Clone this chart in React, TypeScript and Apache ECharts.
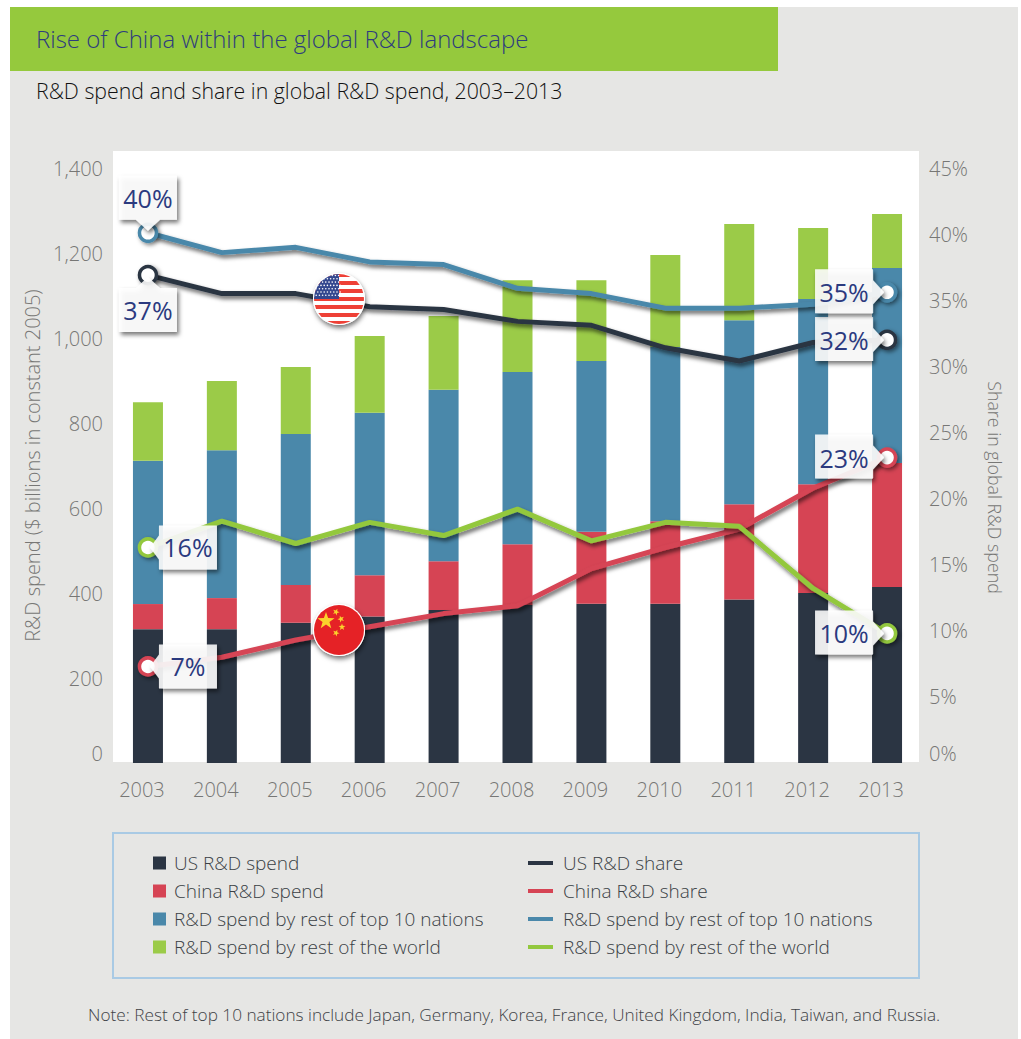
import React, { useEffect, useRef } from "react";
import * as echarts from "echarts";

const years = ["2003", "2004", "2005", "2006", "2007", "2008", "2009", "2010", "2011", "2012", "2013"];
const usSpend = [315, 315, 330, 345, 360, 372, 375, 375, 385, 400, 414];
const chinaSpend = [59, 73, 89, 97, 115, 143, 169, 194, 224, 256, 292];
const restSpend = [337, 348, 355, 382, 403, 405, 402, 410, 433, 436, 459];
const worldSpend = [138, 163, 158, 181, 174, 216, 190, 216, 226, 167, 127];
const usShare = [36.9, 35.5, 35.5, 34.5, 34.3, 33.4, 33.1, 31.4, 30.4, 31.8, 32.0];
const chinaShare = [7.3, 8.0, 9.3, 10.3, 11.3, 11.9, 14.7, 16.3, 17.7, 20.8, 23.1];
const restShare = [40.1, 38.6, 39.0, 37.9, 37.7, 35.9, 35.5, 34.4, 34.4, 34.7, 35.6];
const worldShare = [16.3, 18.3, 16.6, 18.2, 17.2, 19.2, 16.8, 18.2, 17.9, 13.2, 9.8];

const barNames = ["US R&D spend", "China R&D spend", "R&D spend by rest of top 10 nations", "R&D spend by rest of the world"];
const lineNames = ["US R&D share", "China R&D share", "R&D spend by rest of top 10 nations", "R&D spend by rest of the world"];
const titleText = "Rise of China within the global R&D landscape";
const subtitleText = "R&D spend and share in global R&D spend, 2003\u20132013";
const noteText = "Note: Rest of top 10 nations include Japan, Germany, Korea, France, United Kingdom, India, Taiwan, and Russia.";

const calloutFirst = ["37%", "7%", "40%", "16%"];
const calloutLast = ["32%", "23%", "35%", "10%"];
const firstSide = ["below", "right", "above", "right"];

const FONT = "'Open Sans', 'Noto Sans', sans-serif";
const barColors = ["#2B3543", "#D64454", "#4A88AA", "#9BCB48"];
const lineColors = ["#2B3543", "#D64454", "#4A88AA", "#93C83E"];

function usFlag() {
  const stripes = Array.from({ length: 7 }, (_, i) => `<rect x="0" y="${i * 8}" width="52" height="4" fill="#EE4036"/>`).join("");
  let dots = "";
  for (let r = 0; r < 7; r++) for (let c = 0; c < 8; c++) dots += `<circle cx="${3.2 + c * 3.2 + (r % 2) * 1.6}" cy="${2.5 + r * 3.3}" r="0.8" fill="#fff"/>`;
  const svg = `<svg xmlns="http://www.w3.org/2000/svg" width="52" height="52" viewBox="0 0 52 52"><defs><clipPath id="c"><circle cx="26" cy="26" r="25"/></clipPath></defs><circle cx="26" cy="26" r="26" fill="#fff"/><g clip-path="url(#c)"><rect width="52" height="52" fill="#fff"/>${stripes}<rect width="26" height="26" fill="#34488F"/>${dots}</g></svg>`;
  return "data:image/svg+xml;base64," + btoa(svg);
}

function star(cx: number, cy: number, r: number, rot: number) {
  const pts: string[] = [];
  for (let i = 0; i < 10; i++) {
    const rad = i % 2 ? r * 0.4 : r;
    const a = rot - Math.PI / 2 + (i * Math.PI) / 5;
    pts.push(`${cx + rad * Math.cos(a)},${cy + rad * Math.sin(a)}`);
  }
  return `<polygon points="${pts.join(" ")}" fill="#FBD22C"/>`;
}

function cnFlag() {
  const svg = `<svg xmlns="http://www.w3.org/2000/svg" width="52" height="52" viewBox="0 0 52 52"><circle cx="26" cy="26" r="26" fill="#fff"/><circle cx="26" cy="26" r="25" fill="#E52226"/>${star(13, 17, 9, 0)}${star(23, 8, 3.6, 0.4)}${star(28, 15, 3.6, 0.9)}${star(29, 23, 3.6, 0)}${star(23, 29, 3.6, 0.4)}</svg>`;
  return "data:image/svg+xml;base64," + btoa(svg);
}

function renderCallout(params: any, api: any) {
  const p = api.coord([api.value(0), api.value(1)]);
  const text = params.dataIndex % 2 === 0 ? calloutFirst[params.dataIndex / 2] : calloutLast[(params.dataIndex - 1) / 2];
  const side = params.dataIndex % 2 === 0 ? firstSide[params.dataIndex / 2] : "left";
  const w = 58, h = 44;
  const px = p[0], py = p[1];
  let pts: number[][];
  let cx = px, cy = py;
  if (side === "above") {
    const t = py - 57, b = t + h, l = px - 29, r = l + w;
    pts = [[l, t], [r, t], [r, b], [px + 12, b], [px, py - 2], [px - 12, b], [l, b]];
    cy = t + h / 2;
  } else if (side === "below") {
    const t = py + 13, b = t + h, l = px - 29, r = l + w;
    pts = [[l, t], [px - 12, t], [px, py + 2], [px + 12, t], [r, t], [r, b], [l, b]];
    cy = t + h / 2;
  } else if (side === "right") {
    const l = px + 11, r = l + w, t = py - 22, b = t + h;
    pts = [[l, t], [r, t], [r, b], [l, b], [l, py + 12], [px + 2, py], [l, py - 12]];
    cx = l + w / 2;
  } else {
    const r = px - 14, l = r - w, t = py - 23, b = t + h;
    pts = [[l, t], [r, t], [r, py - 12], [px - 3, py], [r, py + 12], [r, b], [l, b]];
    cx = l + w / 2;
  }
  return {
    type: "group",
    children: [
      { type: "polygon", shape: { points: pts }, style: { fill: "rgba(255,255,255,0.87)", shadowBlur: 4, shadowColor: "rgba(0,0,0,0.6)", shadowOffsetX: 2, shadowOffsetY: 3 } },
      { type: "text", style: { text, x: cx, y: cy, align: "center", verticalAlign: "middle", fill: "#2B3A7F", font: `400 25px ${FONT}` } },
    ],
  };
}

export default function App() {
  const ref = useRef<HTMLDivElement>(null);
  useEffect(() => {
    document.body.style.margin = "0";
    const chart = echarts.init(ref.current!, undefined, { renderer: "svg" });
    const barData = [usSpend, chinaSpend, restSpend, worldSpend];
    const lineData = [usShare, chinaShare, restShare, worldShare];
    const calloutData: any[] = [];
    lineData.forEach((d) => {
      calloutData.push([0, d[0]]);
      calloutData.push([d.length - 1, d[d.length - 1]]);
    });
    const axisLabel = { color: "#777775", fontSize: 20, fontFamily: FONT, fontWeight: 300 };
    const legendText = { color: "#3A3F45", fontSize: 19, fontFamily: FONT, fontWeight: 300, lineHeight: 22 };
    chart.setOption({
      animation: false,
      backgroundColor: "transparent",
      grid: { left: 111, width: 813, top: 168, height: 595, containLabel: false },
      xAxis: {
        type: "category",
        data: years,
        axisLine: { show: false },
        axisTick: { show: false },
        axisLabel: { ...axisLabel, margin: 16, padding: [0, 12, 0, 0], interval: 0 },
      },
      yAxis: [
        {
          type: "value", min: 0, max: 1400, interval: 200,
          axisLine: { show: false }, axisTick: { show: false }, splitLine: { show: false },
          axisLabel: { ...axisLabel, margin: 8, verticalAlignMinLabel: "bottom", formatter: (v: number) => v.toLocaleString("en-US") },
          name: "R&D spend ($ billions in constant 2005)",
          nameLocation: "middle", nameGap: 69, nameRotate: 90,
          nameTextStyle: { color: "#777775", fontSize: 20, fontFamily: FONT, fontWeight: 300 },
        },
        {
          type: "value", min: 0, max: 45, interval: 5, position: "right",
          axisLine: { show: false }, axisTick: { show: false }, splitLine: { show: false },
          axisLabel: { ...axisLabel, margin: 5, verticalAlignMinLabel: "bottom", formatter: "{value}%" },
          name: "Share in global R&D spend",
          nameLocation: "middle", nameGap: 62, nameRotate: -90,
          nameTextStyle: { color: "#777775", fontSize: 17.8, fontFamily: FONT, fontWeight: 300, padding: [0, 0, 0, 44] },
        },
      ],
      legend: [
        {
          left: 153, top: 852, padding: 0, orient: "vertical", itemWidth: 13, itemHeight: 13, itemGap: 6, selectedMode: false,
          textStyle: { ...legendText, padding: [0, 0, 0, 3] },
          data: barNames.map((name, i) => ({ name, icon: "rect", itemStyle: { color: barColors[i] } })),
        },
        {
          left: 528, top: 852, padding: 0, orient: "vertical", itemWidth: 25, itemHeight: 4, itemGap: 6, selectedMode: false,
          textStyle: { ...legendText, padding: [0, 0, 0, 5] },
          data: lineNames.map((name, i) => ({ name, icon: "rect", itemStyle: { color: lineColors[i], borderWidth: 0, shadowBlur: 0 } })),
        },
      ],
      series: [
        ...barNames.map((name, i) => ({
          type: "bar", name, stack: "spend", data: barData[i], barWidth: 30, xAxisIndex: 0, yAxisIndex: 0,
          itemStyle: { color: barColors[i] }, z: 2,
        })),
        ...lineNames.map((name, i) => ({
          type: "line", name, data: lineData[i], xAxisIndex: 0, yAxisIndex: 1, showAllSymbol: true, z: 4,
          symbol: (_v: any, p: any) => (p.dataIndex === 0 || p.dataIndex === years.length - 1 ? "circle" : "none"),
          symbolSize: 17,
          lineStyle: { color: lineColors[i], width: 5, shadowBlur: 4, shadowColor: "rgba(0,0,0,0.6)", shadowOffsetX: 2, shadowOffsetY: 3 },
          itemStyle: { color: "#fff", borderColor: lineColors[i], borderWidth: 3.5, shadowBlur: 4, shadowColor: "rgba(0,0,0,0.5)", shadowOffsetX: 2, shadowOffsetY: 2 },
        })),
        { type: "custom", xAxisIndex: 0, yAxisIndex: 1, data: calloutData, renderItem: renderCallout, clip: false, z: 6, encode: { x: 0, y: 1 }, silent: true },
      ],
      graphic: [
        { type: "rect", z: -20, shape: { x: 10, y: 7, width: 1008, height: 1032 }, style: { fill: "#E6E6E4" } },
        { type: "rect", z: -19, shape: { x: 10, y: 7, width: 768, height: 64 }, style: { fill: "#95C93D" } },
        { type: "rect", z: -19, shape: { x: 113, y: 151, width: 806, height: 611 }, style: { fill: "#fff" } },
        { type: "rect", z: -19, shape: { x: 113, y: 833, width: 806, height: 145 }, style: { fill: "transparent", stroke: "#A9CAE4", lineWidth: 2 } },
        { type: "text", z: 10, style: { text: titleText, x: 36, y: 38, verticalAlign: "middle", fill: "#2E3C7E", font: `300 24px ${FONT}` } },
        { type: "text", z: 10, style: { text: subtitleText, x: 36, y: 90, verticalAlign: "middle", fill: "#111", font: `300 21.3px ${FONT}` } },
        { type: "text", z: 10, style: { text: noteText, x: 88, y: 1014, verticalAlign: "middle", fill: "#3F4347", font: `300 17.2px ${FONT}` } },
        { type: "circle", z: 8, shape: { cx: 339, cy: 299, r: 26 }, style: { fill: "#fff", shadowBlur: 5, shadowColor: "rgba(0,0,0,0.55)", shadowOffsetX: 1, shadowOffsetY: 3 } },
        { type: "image", z: 9, style: { image: usFlag(), x: 313, y: 273, width: 52, height: 52 } },
        { type: "circle", z: 8, shape: { cx: 339, cy: 630, r: 26 }, style: { fill: "#fff", shadowBlur: 5, shadowColor: "rgba(0,0,0,0.55)", shadowOffsetX: 1, shadowOffsetY: 3 } },
        { type: "image", z: 9, style: { image: cnFlag(), x: 313, y: 604, width: 52, height: 52 } },
      ],
    });
    return () => chart.dispose();
  }, []);
  return <div ref={ref} style={{ position: "absolute", left: 0, top: 0, width: 1021, height: 1039 }} />;
}
